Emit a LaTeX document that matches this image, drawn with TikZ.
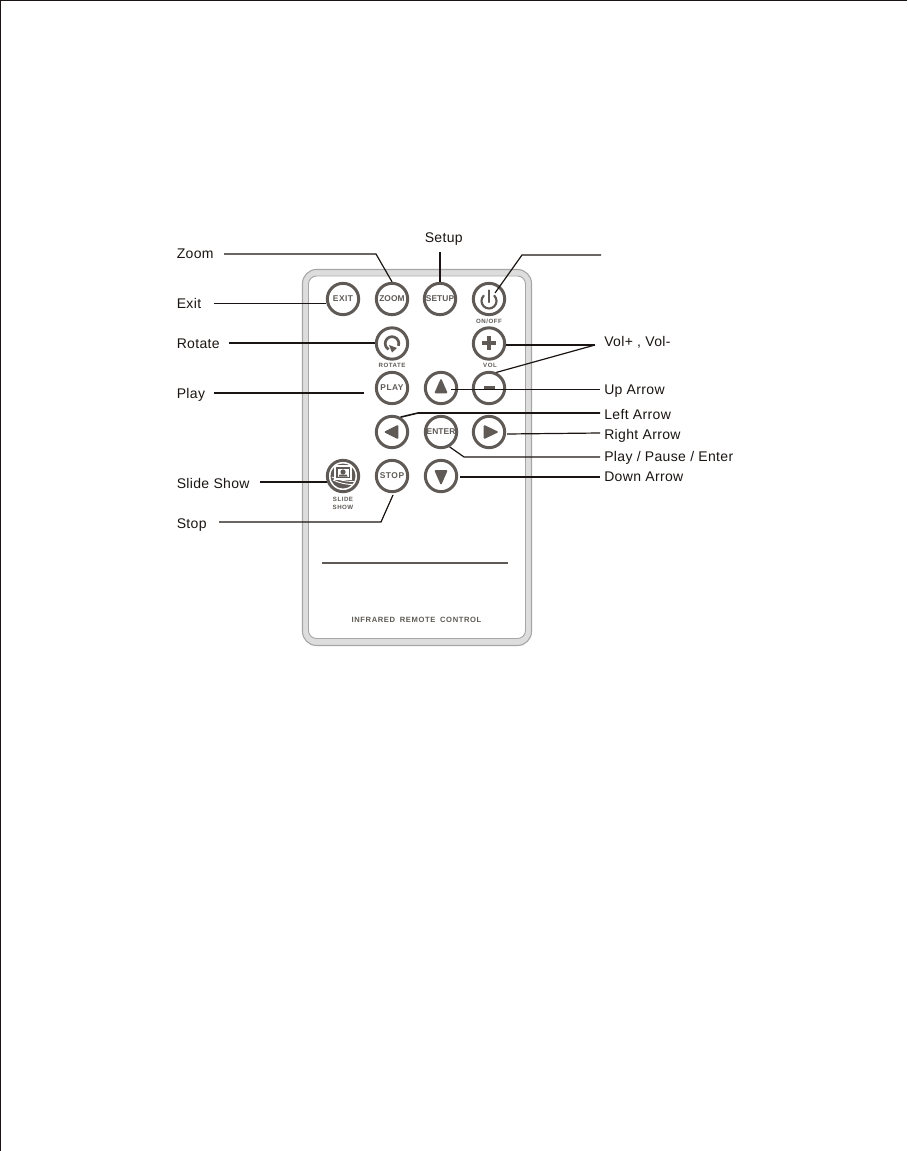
\documentclass[tikz,border=0pt]{standalone}
\usepackage{fontspec}
\setmainfont{Liberation Sans}
\newfontfamily\lblfont[LetterSpace=2.5]{Liberation Sans}
\newfontfamily\btnfont[LetterSpace=6]{Liberation Sans}
\newfontfamily\btntight[LetterSpace=1]{Liberation Sans}
\newfontfamily\capfont[LetterSpace=8]{Liberation Sans}
\usetikzlibrary{calc}
\definecolor{ink}{HTML}{1A1512}
\definecolor{btn}{HTML}{5F5A55}
\definecolor{rimout}{HTML}{A6A6A6}
\definecolor{rimfill}{HTML}{DDDDDD}
\tikzset{
  btnshape/.style={circle,draw=btn,fill=white,line width=2.25pt,minimum size=23.5pt,inner sep=0pt,
    font=\btnfont\bfseries\fontsize{6.3}{6.3}\selectfont,text=btn},
  btnwide/.style={btnshape,font=\btntight\bfseries\fontsize{6.3}{6.3}\selectfont},
  lbl/.style={anchor=base west,inner sep=0pt,text=ink,font=\lblfont\fontsize{10.5}{12}\selectfont},
  conn/.style={draw=ink,line width=0.9pt},
  connb/.style={draw=ink,line width=1.2pt},
  conns/.style={draw=ink,line width=0.7pt},
  captxt/.style={inner sep=0pt,text=btn,align=center,font=\capfont\bfseries\fontsize{4.6}{6}\selectfont},
  glyph/.style={fill=btn,draw=btn,line width=1.2pt,line join=round},
}
\begin{document}
\begin{tikzpicture}[x=0.75pt,y=-0.75pt]
\useasboundingbox (0,0) rectangle (907,1151);
\fill[white] (0,0) rectangle (907,1151);
\draw[ink,line width=0.9pt] (0,0.6) -- (907,0.6);
\draw[ink,line width=1.1pt] (0.7,0) -- (0.7,1151);

% remote body
\draw[rimout,fill=rimfill,line width=0.8pt,rounded corners=10.5pt] (302.5,269.5) rectangle (531.5,645.5);
\draw[rimout,fill=white,line width=0.7pt,rounded corners=6pt] (308.5,276) rectangle (525.5,638.5);
\draw[btn,line width=1.5pt] (322,563) -- (508,563);
\node[captxt,font=\capfont\bfseries\fontsize{5.7}{7}\selectfont] (brand) at (416.5,620) {INFRARED\hspace{1.5pt} REMOTE\hspace{1.5pt} CONTROL};

% buttons
\node[btnshape] (bExit) at (343,299) {EXIT};
\node[btnwide] (bZoom) at (392,299) {ZOOM};
\node[btnwide] (bSetup) at (440,299) {SETUP};
\node[btnshape] (bPower) at (489,299) {};
\node[btnshape] (bRotate) at (392,343.5) {};
\node[btnshape] (bPlus) at (489,343.5) {};
\node[btnshape] (bPlay) at (392,388) {PLAY};
\node[btnshape] (bUp) at (441,388) {};
\node[btnshape] (bMinus) at (489,388) {};
\node[btnshape] (bLeft) at (392,432) {};
\node[btnwide] (bEnter) at (441,432) {ENTER};
\node[btnshape] (bRight) at (489,432) {};
\node[btnshape] (bSlide) at (343,476) {};
\node[btnshape] (bStop) at (392,476) {STOP};
\node[btnshape] (bDown) at (441,476) {};

% captions
\node[captxt] (cOnoff) at (489,321.5) {ON/OFF};
\node[captxt] (cRotate) at (392,365.5) {ROTATE};
\node[captxt] (cVol) at (490,365.5) {VOL};
\node[captxt] (cSlide) at (343,503) {SLIDE\\SHOW};

% icons (y axis points down: arc angles run clockwise on the page)
\draw[btn,line width=1.6pt,line cap=round] ($(bPower.center)+(-5.3,-3.3)$) arc[start angle=225,end angle=-45,radius=7.5];
\draw[btn,line width=1.6pt,line cap=round] ($(bPower.center)+(0,-8.5)$) -- ($(bPower.center)+(0,3)$);
\draw[btn,line width=2pt] ($(bRotate.center)+(6.4,2.3)$) arc[start angle=20,end angle=-240,radius=6.8];
\fill[btn] ($(bRotate.center)+(-3,1.5)$) -- ($(bRotate.center)+(5,4.5)$) -- ($(bRotate.center)+(0,9)$) -- cycle;
\fill[btn] ($(bPlus.center)+(-7,-2)$) rectangle ($(bPlus.center)+(7,2)$);
\fill[btn] ($(bPlus.center)+(-2,-7)$) rectangle ($(bPlus.center)+(2,7)$);
\fill[btn] ($(bMinus.center)+(-5.5,-2.5)$) rectangle ($(bMinus.center)+(6,1.5)$);
\draw[glyph] ($(bUp.center)+(0,-8)$) -- ($(bUp.center)+(5.5,4.5)$) -- ($(bUp.center)+(-5.5,4.5)$) -- cycle;
\draw[glyph] ($(bDown.center)+(0,7.5)$) -- ($(bDown.center)+(5.5,-5)$) -- ($(bDown.center)+(-5.5,-5)$) -- cycle;
\draw[glyph] ($(bLeft.center)+(-6.5,0)$) -- ($(bLeft.center)+(5.5,6)$) -- ($(bLeft.center)+(5.5,-6)$) -- cycle;
\draw[glyph] ($(bRight.center)+(8,0)$) -- ($(bRight.center)+(-4.5,6)$) -- ($(bRight.center)+(-4.5,-6)$) -- cycle;
% slide show icon
\fill[btn] (bSlide.center) circle[radius=12.5];
\draw[white,line width=0.7pt] ($(bSlide.center)+(-10,4)$) .. controls ($(bSlide.center)+(-4,7)$) and ($(bSlide.center)+(4,8.5)$) .. ($(bSlide.center)+(9,8.5)$);
\draw[white,line width=0.7pt] ($(bSlide.center)+(-11,1)$) .. controls ($(bSlide.center)+(-5,4)$) and ($(bSlide.center)+(4,5.5)$) .. ($(bSlide.center)+(11,5.5)$);
\draw[white,fill=btn,line width=0.9pt] ($(bSlide.center)+(-8,-10)$) rectangle ($(bSlide.center)+(8,3)$);
\fill[white] ($(bSlide.center)+(-5.5,-7.5)$) rectangle ($(bSlide.center)+(5.5,0.5)$);
\fill[btn] ($(bSlide.center)+(0,-4)$) circle[radius=2.6];
\fill[btn] ($(bSlide.center)+(-4.5,0.5)$) -- ($(bSlide.center)+(-3.5,-1.5)$) -- ($(bSlide.center)+(3.5,-1.5)$) -- ($(bSlide.center)+(4.5,0.5)$) -- cycle;

% labels
\node[lbl] (lZoom) at (176.5,259) {Zoom};
\node[lbl] (lSetup) at (424.5,243) {Setup};
\node[lbl] (lExit) at (176.5,309) {Exit};
\node[lbl] (lRotate) at (176.5,349) {Rotate};
\node[lbl] (lPlay) at (176.5,398.5) {Play};
\node[lbl] (lSlide) at (176.5,488) {Slide Show};
\node[lbl] (lStop) at (176.5,528) {Stop};
\node[lbl] (lVol) at (604,347) {Vol+ , Vol-};
\node[lbl] (lUp) at (604,394) {Up Arrow};
\node[lbl] (lLeft) at (604,419) {Left Arrow};
\node[lbl] (lRight) at (604,439) {Right Arrow};
\node[lbl] (lEnter) at (604,461) {Play / Pause / Enter};
\node[lbl] (lDown) at (604,481) {Down Arrow};

% free ends of the connectors, beside their labels
\coordinate (eZoom) at (224,254);
\coordinate (eSetup) at (440,252);
\coordinate (ePower) at (601,255);
\coordinate (tPower) at (495,293);
\coordinate (eExit) at (214,303);
\coordinate (eRotate) at (229,343);
\coordinate (ePlay) at (214,393);
\coordinate (tPlay) at (364,393);
\coordinate (eSlide) at (260,482);
\coordinate (eStop) at (219,522);
\coordinate (tStop) at (393,495);
\coordinate (eVol) at (595,345);
\coordinate (eUp) at (600,389.5);
\coordinate (tUp) at (451,389.5);
\coordinate (eLeft) at (600,413);
\coordinate (eRight) at (600,433);
\coordinate (tRight) at (507,434);
\coordinate (eEnter) at (600,457);
\coordinate (eDown) at (600,477);
\coordinate (tDown) at (460,477);

% connectors
\draw[conn] (eZoom) -- (376,254) -- (bZoom.north);
\draw[conn] (eSetup) -- (bSetup.north);
\draw[conn] (ePower) -- (522,255) -- (tPower);
\draw[conns] (eExit) -- (bExit.west |- eExit);
\draw[connb] (eRotate) -- (bRotate.west |- eRotate);
\draw[connb] (ePlay) -- (tPlay);
\draw[connb] (eSlide) -- (327,482);
\draw[conn] (eStop) -- (381,522) -- (tStop);
\draw[conn] (bPlus.east |- eVol) -- (eVol);
\draw[conn] (bMinus.65) -- (eVol);
\draw[conn] (tUp) -- (eUp);
\draw[connb] (bLeft.60) -- (418,413) -- (eLeft);
\draw[conn] (tRight) -- (eRight);
\draw[conn] (bEnter.-60) -- (464,457) -- (eEnter);
\draw[conn] (tDown) -- (eDown);
\end{tikzpicture}
\end{document}
